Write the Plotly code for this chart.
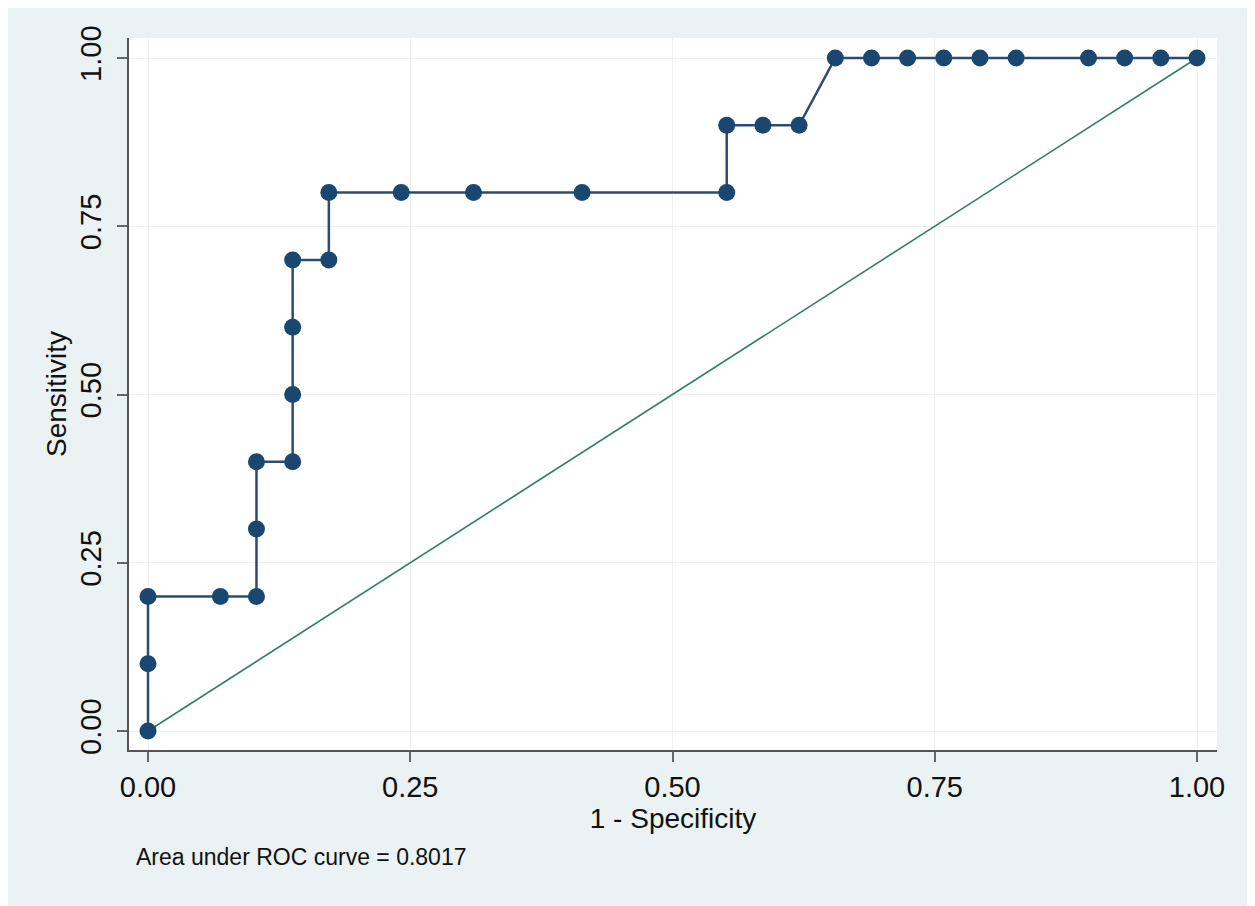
import plotly.graph_objects as go

# ROC curve points
fpr = [0.0, 0.0, 0.0, 0.069, 0.1034, 0.1034, 0.1034, 0.1379, 0.1379, 0.1379,
       0.1379, 0.1724, 0.1724, 0.2414, 0.3103, 0.4138, 0.5517, 0.5517, 0.5862,
       0.6207, 0.6552, 0.6897, 0.7241, 0.7586, 0.7931, 0.8276, 0.8966, 0.931,
       0.9655, 1.0]
sens = [0.0, 0.1, 0.2, 0.2, 0.2, 0.3, 0.4, 0.4, 0.5, 0.6,
        0.7, 0.7, 0.8, 0.8, 0.8, 0.8, 0.8, 0.9, 0.9,
        0.9, 1.0, 1.0, 1.0, 1.0, 1.0, 1.0, 1.0, 1.0,
        1.0, 1.0]
ref_x = [0.0, 1.0]
ref_y = [0.0, 1.0]
tick_vals = [0.0, 0.25, 0.5, 0.75, 1.0]
tick_text = ["0.00", "0.25", "0.50", "0.75", "1.00"]
auc_label = "Area under ROC curve = 0.8017"

OFF = 8  # default page margin of the html body
W, H = 1240, 898
L, R, T, B = 129 - OFF, 1248 - 1217, 38 - OFF, 898 - (750 - OFF)
pw, ph = W - L - R, H - T - B

fig = go.Figure()
fig.add_trace(go.Scatter(x=ref_x, y=ref_y, mode="lines",
                         line=dict(color="#2f7f66", width=1.6),
                         showlegend=False, hoverinfo="skip"))
fig.add_trace(go.Scatter(x=fpr, y=sens, mode="lines+markers",
                         line=dict(color="#2b4c72", width=2.5),
                         marker=dict(size=17, color="#1a476f",
                                     line=dict(width=0)),
                         showlegend=False))

font = "Liberation Sans, Arial, Helvetica, sans-serif"

def px_x(p):
    return (p - OFF - L) / pw

def px_y(p):
    return 1 - (p - OFF - T) / ph

axis_common = dict(
    tickvals=tick_vals, ticktext=tick_text, showgrid=True,
    gridcolor="#edf1f2", gridwidth=1, zeroline=False, showline=True,
    linecolor="#555555", linewidth=2, ticks="outside", ticklen=10,
    tickwidth=1.5, tickcolor="#666666", tickfont=dict(size=29),
    automargin=False,
)

fig.update_layout(
    width=W, height=H,
    margin=dict(l=L, r=R, t=T, b=B),
    paper_bgcolor="#eaf2f3", plot_bgcolor="white",
    font=dict(family=font, color="#111111", size=28),
    xaxis=dict(range=[-19 / 1049, 1 + 20 / 1049],
               title=dict(text="1 - Specificity", font=dict(size=28),
                          standoff=0),
               **axis_common),
    yaxis=dict(range=[-19 / 673, 1 + 20 / 673], tickangle=-90,
               ticklabelstandoff=4,
               title=dict(text="Sensitivity", font=dict(size=28),
                          standoff=1),
               **axis_common),
    annotations=[dict(text=auc_label, xref="paper", yref="paper",
                      x=px_x(134), y=px_y(857),
                      xanchor="left", yanchor="middle", showarrow=False,
                      font=dict(size=23, color="#111111"))],
)

fig.write_html("out.html")
